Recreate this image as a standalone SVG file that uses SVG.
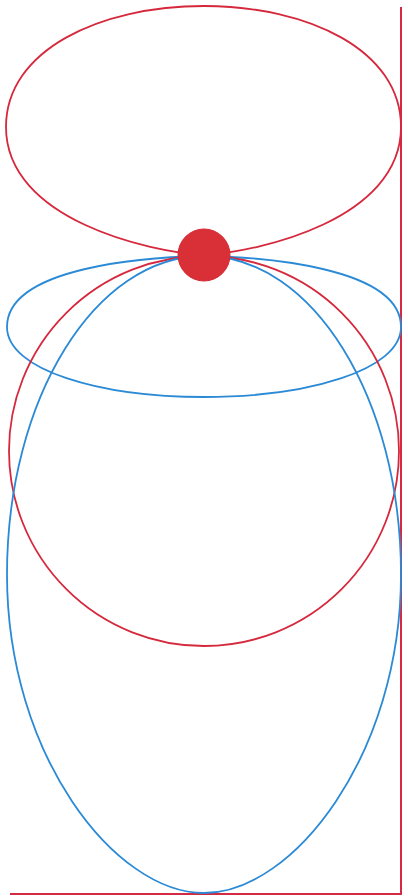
<svg xmlns="http://www.w3.org/2000/svg" width="408" height="896" viewBox="0 0 408 896">
<style>
.red{fill:none;stroke:#d6283c;stroke-width:1.8}
.blue{fill:none;stroke:#2b8ad6;stroke-width:1.8}
.axis{fill:none;stroke:#d42a44;stroke-width:2}
</style>
<rect width="408" height="896" fill="#ffffff"/>
<g id="axes">
<line class="axis" x1="401" y1="7" x2="401" y2="894"/>
<line class="axis" x1="10" y1="894" x2="402" y2="894"/>
</g>
<g id="lobe-red-top">
<path class="red" d="M204,255 C150,252 6,220 6,127 C6,50 100,6 204,6 C308,6 401,50 401,127 C401,220 258,252 204,255 Z"/>
</g>
<g id="lobe-blue-flat">
<path class="blue" d="M204,256 C150,257 7,266 7,327 C7,370 100,397 204,397 C308,397 401,370 401,327 C401,266 258,257 204,256 Z"/>
</g>
<g id="lobe-red-round">
<circle class="red" cx="204" cy="451" r="195"/>
</g>
<g id="lobe-blue-big">
<path class="blue" d="M204,256 C95.2,256 7,398.6 7,574.5 C7,755 115,893 204,893 C293,893 401,755 401,574.5 C401,398.6 312.8,256 204,256 Z"/>
</g>
<g id="source">
<circle cx="204" cy="255" r="26" fill="#d93038" stroke="#d62831" stroke-width="1"/>
</g>
</svg>
